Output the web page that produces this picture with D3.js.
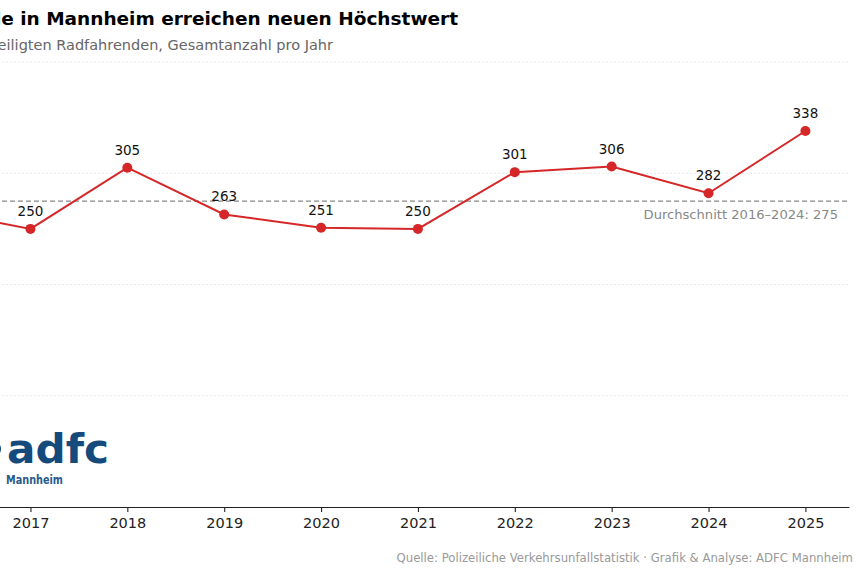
<!DOCTYPE html>
<html><head><meta charset="utf-8">
<script src="https://cdn.jsdelivr.net/npm/d3@7"></script>
<style>
html,body{margin:0;padding:0;background:#fff;overflow:hidden}
svg{display:block;font-family:"DejaVu Sans",sans-serif}
</style></head>
<body><svg id="c" width="864" height="576"></svg>
<script>
const years = [2016, 2017, 2018, 2019, 2020, 2021, 2022, 2023, 2024, 2025];
const values = [267, 250, 305, 263, 251, 250, 301, 306, 282, 338];
const yTicks = [0, 100, 200, 300, 400];
const avgValue = 275;
const titleText = "Fahrradunfälle in Mannheim erreichen neuen Höchstwert";
const subtitleText = "Unfälle mit beteiligten Radfahrenden, Gesamtanzahl pro Jahr";
const avgLabel = "Durchschnitt 2016–2024: 275";
const sourceText = "Quelle: Polizeiliche Verkehrsunfallstatistik · Grafik & Analyse: ADFC Mannheim";

const svg = d3.select("#c");
const x = d3.scaleLinear().domain([2015.55, 2025.45]).range([-110, 849]);
const y = d3.scaleLinear().domain([0, 400]).range([507, 62]);

// gridlines
svg.append("g").selectAll("line").data(yTicks.filter(d => d > 0)).join("line")
  .attr("x1", x.range()[0]).attr("x2", x.range()[1])
  .attr("y1", d => y(d)).attr("y2", d => y(d))
  .attr("stroke", "#e3e3e3").attr("stroke-width", 0.8).attr("stroke-dasharray", "2,2");

// average line
svg.append("line")
  .attr("x1", x.range()[0]).attr("x2", x.range()[1])
  .attr("y1", y(avgValue)).attr("y2", y(avgValue))
  .attr("stroke", "#888").attr("stroke-width", 1.3).attr("stroke-dasharray", "5,3");
svg.append("text").attr("x", 838).attr("y", y(avgValue) + 18)
  .attr("text-anchor", "end").attr("fill", "#888").attr("font-size", 13.1).text(avgLabel);

// x axis
const xAxis = d3.axisBottom(x).tickValues(years.slice(1)).tickFormat(d3.format("d"))
  .tickSize(5).tickPadding(6).tickSizeOuter(0);
const gx = svg.append("g").attr("transform", "translate(0,507)").call(xAxis);
gx.select(".domain").attr("stroke", "#222").attr("stroke-width", 1.2);
gx.selectAll(".tick line").attr("stroke", "#222").attr("stroke-width", 1.1);
gx.selectAll(".tick text").attr("fill", "#222").attr("font-size", 14.5)
  .attr("font-family", "DejaVu Sans, sans-serif");

// line + points
const line = d3.line().x((d, i) => x(years[i])).y(d => y(d));
svg.append("path").datum(values).attr("d", line)
  .attr("fill", "none").attr("stroke", "#d62728").attr("stroke-width", 2);
svg.append("g").selectAll("circle").data(values).join("circle")
  .attr("cx", (d, i) => x(years[i])).attr("cy", d => y(d)).attr("r", 5)
  .attr("fill", "#d62728");
svg.append("g").selectAll("text").data(values.slice(1)).join("text")
  .attr("x", (d, i) => x(years[i + 1])).attr("y", d => y(d) - 13)
  .attr("text-anchor", "middle").attr("font-size", 13.5).attr("fill", "#111")
  .text(d => d);

// title/subtitle (figure is cropped at left)
svg.append("text").attr("x", 458).attr("y", 25).attr("text-anchor", "end")
  .attr("font-size", 18.5).attr("font-weight", "bold").attr("fill", "#000").text(titleText);
svg.append("text").attr("x", 333).attr("y", 50).attr("text-anchor", "end")
  .attr("font-size", 14.5).attr("fill", "#666").text(subtitleText);

// source
svg.append("text").attr("x", 853).attr("y", 562).attr("text-anchor", "end")
  .attr("font-size", 11.7).attr("fill", "#999").text(sourceText);

// logo
svg.append("circle").attr("cx", -7).attr("cy", 449).attr("r", 8).attr("fill", "#154b7c");
svg.append("text").attr("x", 7).attr("y", 463).attr("font-size", 41).attr("font-weight", "bold")
  .attr("fill", "#154b7c").attr("textLength", 102).attr("lengthAdjust", "spacingAndGlyphs").text("adfc");
svg.append("text").attr("x", 6).attr("y", 484).attr("font-size", 11.5).attr("font-weight", "bold")
  .attr("font-family", "DejaVu Sans Condensed, DejaVu Sans, sans-serif")
  .attr("fill", "#2a5b8c").attr("textLength", 57).attr("lengthAdjust", "spacingAndGlyphs").text("Mannheim");
</script></body></html>
